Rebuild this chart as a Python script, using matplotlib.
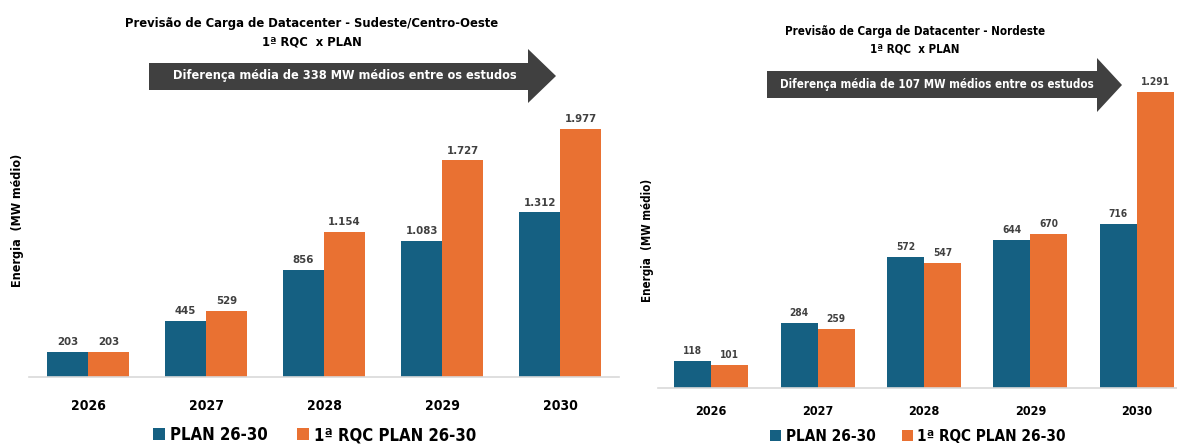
import matplotlib
matplotlib.use('Agg')
import matplotlib.pyplot as plt
from matplotlib.patches import Polygon
import numpy as np

plt.rcParams['font.family'] = ['DejaVu Sans']
plt.rcParams['font.stretch'] = 'condensed'
plt.rcParams['font.weight'] = 'bold'

anos = ['2026', '2027', '2028', '2029', '2030']
series = ['PLAN 26-30', '1ª RQC PLAN 26-30']

se_plan = [203, 445, 856, 1083, 1312]
se_rqc = [203, 529, 1154, 1727, 1977]
ne_plan = [118, 284, 572, 644, 716]
ne_rqc = [101, 259, 547, 670, 1291]

titulo_se = 'Previsão de Carga de Datacenter - Sudeste/Centro-Oeste\n1ª RQC  x PLAN'
titulo_ne = 'Previsão de Carga de Datacenter - Nordeste\n1ª RQC  x PLAN'
seta_se = 'Diferença média de 338 MW médios entre os estudos'
seta_ne = 'Diferença média de 107 MW médios entre os estudos'

AZUL = '#156082'
LARANJA = '#E97132'
CINZA = '#404040'

W, H = 1177, 444
fig = plt.figure(figsize=(W / 100, H / 100), dpi=100)


def px(x, y):
    # pixel (top-left origin) -> figure fraction
    return x / W, 1 - y / H


def fmt(v):
    return f'{v:,}'.replace(',', '.')


def painel(rect, plan, rqc, ymax, pad, fs_ano, fs_rot):
    ax = fig.add_axes(rect)
    x = np.arange(len(anos))
    largura = 0.347
    b1 = ax.bar(x - largura / 2, plan, largura, color=AZUL)
    b2 = ax.bar(x + largura / 2, rqc, largura, color=LARANJA)
    for barras in (b1, b2):
        for b in barras:
            ax.annotate(fmt(int(b.get_height())),
                        (b.get_x() + b.get_width() / 2, b.get_height()),
                        xytext=(0, 3.5), textcoords='offset points',
                        ha='center', va='bottom', fontsize=fs_rot,
                        color=CINZA, fontweight='bold')
    ax.set_xlim(-0.5, len(anos) - 0.5)
    ax.set_ylim(0, ymax)
    ax.set_xticks(x)
    ax.set_xticklabels(anos, fontsize=fs_ano, fontweight='bold')
    ax.tick_params(axis='x', length=0, pad=pad)
    ax.set_yticks([])
    for s in ('top', 'right', 'left'):
        ax.spines[s].set_visible(False)
    ax.spines['bottom'].set_color('#D9D9D9')
    ax.spines['bottom'].set_linewidth(1.2)
    ax.patch.set_alpha(0)
    return ax, b1, b2


def seta(x0, x1, xt, yt, yb, ht, hb, texto, tx, ty, fs):
    pts = [px(x0, yt), px(x1, yt), px(x1, ht), px(xt, (ht + hb) / 2),
           px(x1, hb), px(x1, yb), px(x0, yb)]
    fig.patches.append(Polygon(pts, closed=True, transform=fig.transFigure,
                               facecolor=CINZA, edgecolor='none'))
    fx, fy = px(tx, ty)
    fig.text(fx, fy, texto, color='white', fontsize=fs, fontweight='bold',
             ha='center', va='center')


# Sudeste/Centro-Oeste
bl, tp = px(29, 377)[1], px(29, 100)[1]
ax1, p1, r1 = painel([29 / W, bl, 590 / W, tp - bl], se_plan, se_rqc, 2209, 16, 10, 8.2)
fx, fy = px(312, 33)
fig.text(fx, fy, titulo_se, ha='center', va='center', fontsize=9.3,
         fontweight='bold', linespacing=1.55)
seta(149, 528, 556, 63, 90, 49, 103, seta_se, 345, 76, 9.1)
fx, fy = px(18, 220)
fig.text(fx, fy, 'Energia  (MW médio)', rotation=90, ha='center', va='center',
         fontsize=9, fontweight='bold')
fx, fy = px(315, 435)
fig.legend([p1, r1], series, loc='center', bbox_to_anchor=(fx, fy), ncol=2,
           frameon=False, handlelength=0.72, handleheight=0.72,
           handletextpad=0.3, columnspacing=1.75, borderpad=0.2,
           prop={'weight': 'bold', 'size': 12})

# Nordeste
bl, tp = px(658, 388)[1], px(658, 60)[1]
ax2, p2, r2 = painel([658 / W, bl, 532 / W, tp - bl], ne_plan, ne_rqc, 1430, 12.5, 9, 7.3)
fx, fy = px(915, 40)
fig.text(fx, fy, titulo_ne, ha='center', va='center', fontsize=8.3,
         fontweight='bold', linespacing=1.5)
seta(767, 1097, 1122, 71, 98, 58, 112, seta_ne, 937, 84, 8.3)
fx, fy = px(648, 240)
fig.text(fx, fy, 'Energia  (MW médio)', rotation=90, ha='center', va='center',
         fontsize=8.3, fontweight='bold')
fx, fy = px(918, 436)
fig.legend([p2, r2], series, loc='center', bbox_to_anchor=(fx, fy), ncol=2,
           frameon=False, handlelength=0.72, handleheight=0.72,
           handletextpad=0.3, columnspacing=1.7, borderpad=0.2,
           prop={'weight': 'bold', 'size': 11})

fig.savefig('out.png', dpi=100)
